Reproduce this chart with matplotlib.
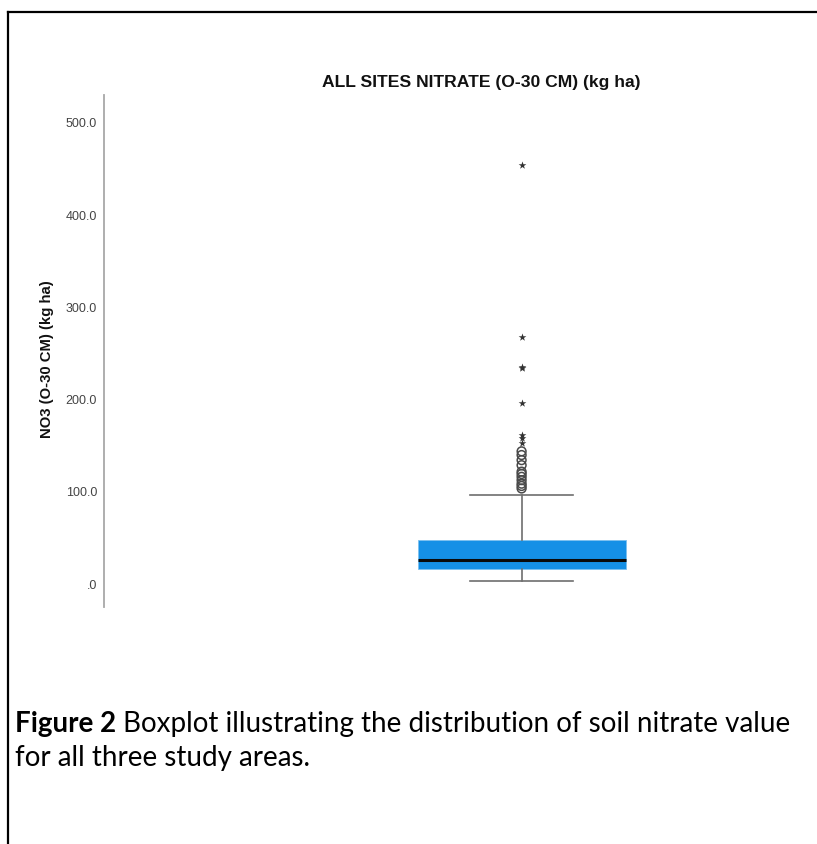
import matplotlib
matplotlib.use("Agg")
import matplotlib.pyplot as plt
from matplotlib.lines import Line2D

# ---- data ----
title = "ALL SITES NITRATE (O-30 CM) (kg ha)"
ylabel = "NO3 (O-30 CM) (kg ha)"
yticks = [0, 100, 200, 300, 400, 500]
yticklabels = [".0", "100.0", "200.0", "300.0", "400.0", "500.0"]
box_stats = dict(whislo=3.6, q1=17.0, med=26.8, q3=48.5, whishi=96.9)
outliers_circle = [103.8, 106.5, 109.0, 112.8, 116.4, 119.5, 122.0, 129.0, 134.5, 140.0, 144.0]
outliers_star = [152.6, 159.0, 162.0, 196.0, 234.5, 235.5, 268.0, 454.5]
caption_bold = "Figure 2"
caption_rest = " Boxplot illustrating the distribution of soil nitrate value"
caption_line2 = "for all three study areas."

W, H = 817, 844
fig = plt.figure(figsize=(W / 100, H / 100), dpi=100)

def fx(px):
    return px / W

def fy(py):
    return 1 - py / H

# frame lines (left & top)
fig.add_artist(Line2D([fx(8), fx(8)], [fy(12), 0], color="black", lw=1.6))
fig.add_artist(Line2D([fx(8), 1], [fy(12), fy(12)], color="black", lw=1.6))

ax_left, ax_right, ax_top, ax_bot = 104, 800, 95, 607
ax = fig.add_axes([fx(ax_left), fy(ax_bot), fx(ax_right - ax_left), (ax_bot - ax_top) / H])
ax.set_ylim(-24.6, 530)
ax.set_xlim(0, 1)

stats = dict(box_stats)
stats["fliers"] = []
ax.bxp([stats], positions=[0.6], widths=0.299, patch_artist=True, showfliers=False,
       boxprops=dict(facecolor="#1590e6", edgecolor="#7cc0ef", linewidth=0.6),
       medianprops=dict(color="#0a0a0a", linewidth=2.2),
       whiskerprops=dict(color="#6e6e6e", linewidth=1.2),
       capprops=dict(color="#6e6e6e", linewidth=1.2),
       capwidths=0.148)

ax.scatter([0.6] * len(outliers_circle), outliers_circle, s=40, facecolors="none",
           edgecolors="#4a4a4a", linewidths=1.1, zorder=5)
ax.scatter([0.6] * len(outliers_star), outliers_star, s=34, marker="*",
           color="#333333", linewidths=0, zorder=5)

for s in ["top", "right", "bottom"]:
    ax.spines[s].set_visible(False)
ax.spines["left"].set_color("#a8a8a8")
ax.spines["left"].set_linewidth(1.3)
ax.set_xticks([])
ax.set_yticks(yticks)
ax.set_yticklabels(yticklabels, family="Liberation Sans", fontsize=9, color="#444444")
ax.tick_params(axis="y", length=0, pad=5)

fig.text(fx(481), fy(82), title, ha="center", va="center", family="Liberation Sans",
         fontweight="bold", fontsize=12.6, color="#111111")
fig.text(fx(47), fy(359), ylabel, ha="center", va="center", rotation=90,
         family="Liberation Sans", fontweight="bold", fontsize=10.7, color="#111111")

# caption: size fitted so that line 1 spans x=15..790 like the reference
cap_font = "Lato"
fs = 15.5
t1 = fig.text(fx(15), fy(724), caption_bold, ha="left", va="center", family=cap_font,
              fontweight="bold", fontsize=fs)
t2 = fig.text(0, fy(724), caption_rest, ha="left", va="center", family=cap_font, fontsize=fs)
fig.canvas.draw()
r = fig.canvas.get_renderer()
w_total = t1.get_window_extent(r).width + t2.get_window_extent(r).width
fs = fs * 775 / w_total
t1.set_fontsize(fs)
t2.set_fontsize(fs)
fig.canvas.draw()
bb = t1.get_window_extent(r)
t2.set_x(bb.x1 / W)
fig.text(fx(15), fy(758), caption_line2, ha="left", va="center", family=cap_font, fontsize=fs)

fig.savefig("out.png", dpi=100)
